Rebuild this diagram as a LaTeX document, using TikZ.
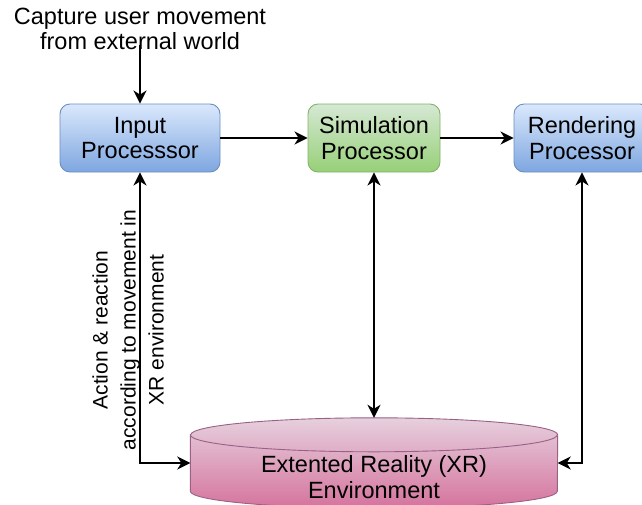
\documentclass[tikz,border=0pt]{standalone}
\usepackage{fontspec}
\setmainfont{Liberation Sans}
\usetikzlibrary{arrows.meta,positioning}

\definecolor{blueTop}{HTML}{DAE8FC}
\definecolor{blueBot}{HTML}{7EA6E0}
\definecolor{blueLine}{HTML}{6C8EBF}
\definecolor{greenTop}{HTML}{D5E8D4}
\definecolor{greenBot}{HTML}{97D077}
\definecolor{greenLine}{HTML}{82B366}
\definecolor{pinkTop}{HTML}{E6D0DE}
\definecolor{pinkBot}{HTML}{D5739D}
\definecolor{pinkLine}{HTML}{996185}

\tikzset{
  proc/.style={draw, rounded corners=10pt, line width=0.9pt, minimum height=68pt,
    align=center, inner sep=0pt, font=\fontsize{23.5}{25.5}\selectfont},
  bluebox/.style={proc, draw=blueLine, top color=blueTop, bottom color=blueBot},
  greenbox/.style={proc, draw=greenLine, top color=greenTop, bottom color=greenBot},
  link/.style={line width=2.5pt, -{Stealth[length=13pt,width=13pt,inset=4pt]}},
  both/.style={line width=2.5pt, {Stealth[length=13pt,width=13pt,inset=4pt]}-{Stealth[length=13pt,width=13pt,inset=4pt]}},
}

\begin{document}
\begin{tikzpicture}[x=1pt,y=-1pt]
\useasboundingbox (0,0) rectangle (642,504);

\node[bluebox, minimum width=160pt] (input) at (140,138) {Input\\Processsor};
\node[greenbox, minimum width=132pt] (sim) at (374,138) {Simulation\\Processor};
\node[bluebox, minimum width=136pt] (render) at (582,138) {Rendering\\Processor};

% XR cylinder
\node[minimum width=367pt, minimum height=90pt, inner sep=0pt] (xr) at (374,463) {};
\draw[pinkLine, line width=0.9pt, top color=pinkTop, bottom color=pinkBot]
  ([yshift=-17pt]xr.north west) -- ([yshift=17pt]xr.south west)
  arc[start angle=180, end angle=360, x radius=183.5pt, y radius=17pt]
  -- ([yshift=-17pt]xr.north east)
  arc[start angle=0, end angle=180, x radius=183.5pt, y radius=17pt] -- cycle;
\draw[pinkLine, line width=0.9pt] ([yshift=-17pt]xr.north west)
  arc[start angle=180, end angle=360, x radius=183.5pt, y radius=17pt];
\node[align=center, font=\fontsize{23.5}{25.5}\selectfont] (xrtext) at (374,477) {Extented Reality (XR)\\Environment};

\node[align=center, inner sep=0pt, font=\fontsize{23.5}{24.5}\selectfont] (capture) at (140,29) {Capture user movement\\from external world};
\node[rotate=90, align=center, inner sep=0pt, font=\fontsize{21}{28}\selectfont] (action) at (128,330) {Action \& reaction\\according to movement in\\XR environment};

\draw[link] ([yshift=5pt]capture.south) -- (input);
\draw[link] (input) -- (sim);
\draw[link] (sim) -- (render);
\draw[both] (sim) -- (xr.north);
\draw[both] (input.south) |- (xr.west);
\draw[both] (render.south) |- (xr.east);
\end{tikzpicture}
\end{document}
